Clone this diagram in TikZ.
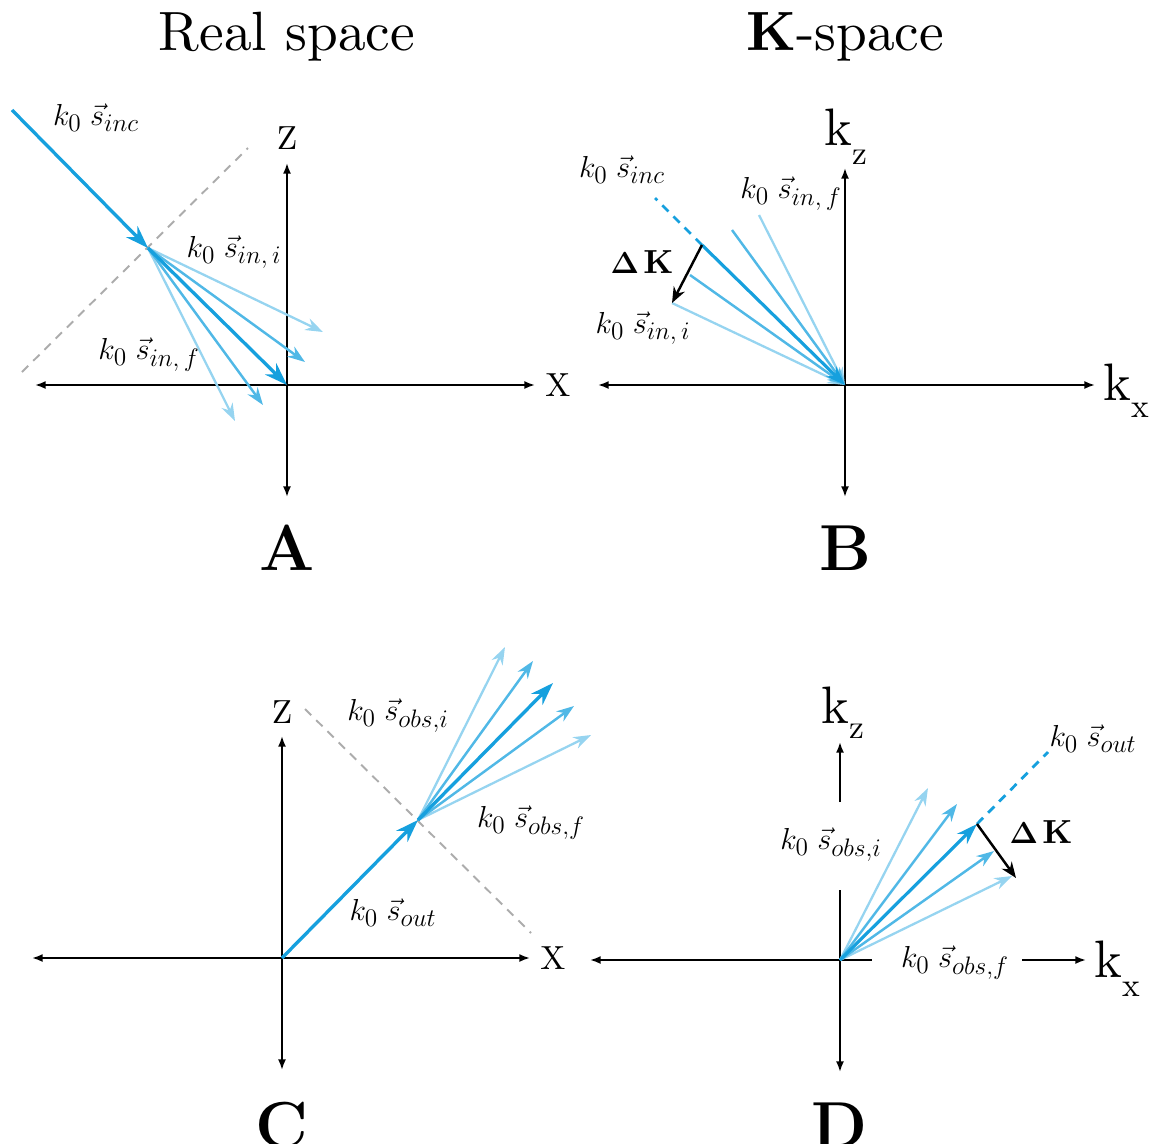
\documentclass[tikz,border=0pt]{standalone}
\usetikzlibrary{arrows.meta}
\definecolor{sblue}{RGB}{22,160,222}
\font\ttlfont="[lmroman10-regular]:mapping=tex-text" at 31.5pt
\font\ttlbf="[lmroman10-bold]:mapping=tex-text" at 31.5pt
\font\axfont="[lmroman10-regular]" at 19pt
\font\kfont="[lmroman10-regular]" at 30pt
\font\subfont="[lmroman10-regular]" at 19pt
\font\dkfont="[lmroman10-bold]" at 19pt
\DeclareMathSizes{17}{17}{13.5}{10}
\newcommand{\klab}[2]{{\kfont k}\raisebox{-#2}{\subfont #1}}
\newcommand{\dK}{$\boldsymbol{\Delta}$\kern2.5pt{\dkfont K}}
\usepackage{amsmath,amsbsy}
\begin{document}
\begin{tikzpicture}[x=0.02cm,y=-0.02cm,
  ax/.style={line width=1.1pt,-{Latex[length=6pt,width=4.5pt]}},
  axn/.style={line width=1.1pt},
  b0/.style={sblue, line width=1.9pt, -{Stealth[length=13pt,width=9pt]}},
  b1/.style={sblue!75!white, line width=1.4pt, -{Stealth[length=10pt,width=7pt]}},
  b2/.style={sblue!45!white, line width=1.3pt, -{Stealth[length=10pt,width=7pt]}},
  gdash/.style={gray!65, line width=1.1pt, dash pattern=on 5pt off 4pt},
  bdash/.style={sblue, line width=1.6pt, dash pattern=on 5pt off 4pt},
  dk/.style={black, line width=1.4pt, -{Stealth[length=9pt,width=7pt]}},
  lab/.style={font=\fontsize{17}{17}\selectfont, inner sep=0pt},
  axl/.style={font=\axfont, inner sep=0pt},
  ttl/.style={font=\ttlfont, inner sep=0pt},
  big/.style={font=\fontsize{37}{37}\selectfont\bfseries, inner sep=0pt},
  dklab/.style={font=\fontsize{19}{19}\selectfont, inner sep=0pt}]
\useasboundingbox (0,0) rectangle (1153,1143);

% titles
\node[ttl] (t1) at (287,37) {Real space};
\node[ttl] (t2) at (845,37) {{\ttlbf K}-space};
\node[big] (lA) at (287,548) {A};
\node[big] (lB) at (845,548) {B};
\node[big] (lC) at (282,1125) {C};
\node[big] (lD) at (840,1125) {D};

% ---------------- Panel A ----------------
\coordinate (oA) at (287,385);
\coordinate (aL) at (35,385);
\coordinate (aR) at (535,385);
\coordinate (aU) at (287,163);
\coordinate (aD) at (287,497);
\draw[ax] (oA) -- (aL);
\draw[ax] (oA) -- (aR);
\draw[ax] (oA) -- (aU);
\draw[ax] (oA) -- (aD);
\node[axl] (aZ) at (287,138) {Z};
\node[axl] (aX) at (558,385) {X};
\coordinate (g1) at (22,372);
\coordinate (g2) at (248,148);
\draw[gdash] (g1) -- (g2);
\coordinate (inc0) at (12,110);
\coordinate (pA) at (148,248);
\draw[b0] (inc0) -- (pA);
\coordinate (a1) at (323,332);
\coordinate (a2) at (305,362);
\coordinate (a4) at (263,405);
\coordinate (a5) at (235,421);
\draw[b2] (pA) -- (a1);
\draw[b1] (pA) -- (a2);
\draw[b2] (pA) -- (a5);
\draw[b1] (pA) -- (a4);
\draw[b0] (pA) -- (oA);
\node[lab] (la1) at (96,118) {$k_0\;\vec{s}_{inc}$};
\node[lab] (la2) at (234,252) {$k_0\;\vec{s}_{in,\,i}$};
\node[lab] (la3) at (149,355) {$k_0\;\vec{s}_{in,\,f}$};

% ---------------- Panel B ----------------
\coordinate (oB) at (845,385);
\coordinate (bL) at (598,385);
\coordinate (bR) at (1095,385);
\coordinate (bU) at (845,168);
\coordinate (bD) at (845,497);
\draw[ax] (oB) -- (bL);
\draw[ax] (oB) -- (bR);
\draw[ax] (oB) -- (bU);
\draw[ax] (oB) -- (bD);
\node[inner sep=0pt, anchor=base west] (bkz) at (824,145) {\klab{z}{11pt}};
\node[inner sep=0pt, anchor=base west] (bkx) at (1103,400) {\klab{x}{10pt}};
\coordinate (bm) at (702,245);
\coordinate (bdash) at (655,198);
\coordinate (b1) at (732,230);
\coordinate (b2) at (759,215);
\coordinate (b4) at (690,275);
\coordinate (b5) at (672,303);
\draw[bdash] (bm) -- (bdash);
\draw[b2] (b2) -- (oB);
\draw[b1] (b1) -- (oB);
\draw[b2] (b5) -- (oB);
\draw[b1] (b4) -- (oB);
\draw[sblue, line width=1.8pt, -{Stealth[length=11pt,width=8pt]}] (bm) -- (oB);
\draw[dk] (bm) -- (b5);
\node[lab] (lb1) at (622,170) {$k_0\;\vec{s}_{inc}$};
\node[lab] (lb2) at (791,194) {$k_0\;\vec{s}_{in,\,f}$};
\node[dklab] (lb3) at (642,262) {\dK};
\node[lab] (lb4) at (643,328) {$k_0\;\vec{s}_{in,\,i}$};

% ---------------- Panel C ----------------
\coordinate (oC) at (282,958);
\coordinate (cL) at (32,958);
\coordinate (cR) at (530,958);
\coordinate (cU) at (282,736);
\coordinate (cD) at (282,1070);
\draw[ax] (oC) -- (cL);
\draw[ax] (oC) -- (cR);
\draw[ax] (oC) -- (cU);
\draw[ax] (oC) -- (cD);
\node[axl] (cZ) at (282,712) {Z};
\node[axl] (cX) at (553,958) {X};
\coordinate (h1) at (305,709);
\coordinate (h2) at (531,933);
\draw[gdash] (h1) -- (h2);
\coordinate (pC) at (418,820);
\draw[b0] (oC) -- (pC);
\coordinate (c1) at (505,647);
\coordinate (c2) at (533,661);
\coordinate (c3) at (553,683);
\coordinate (c4) at (574,706);
\coordinate (c5) at (591,735);
\draw[b2] (pC) -- (c1);
\draw[b1] (pC) -- (c2);
\draw[b2] (pC) -- (c5);
\draw[b1] (pC) -- (c4);
\draw[b0] (pC) -- (c3);
\node[lab] (lc1) at (398,716) {$k_0\;\vec{s}_{obs,i}$};
\node[lab] (lc2) at (531,823) {$k_0\;\vec{s}_{obs,f}$};
\node[lab] (lc3) at (393,913) {$k_0\;\vec{s}_{out}$};

% ---------------- Panel D ----------------
\coordinate (oD) at (840,960);
\coordinate (dL) at (590,960);
\coordinate (dR1) at (872,960);
\coordinate (dR2) at (1022,960);
\coordinate (dR) at (1086,960);
\coordinate (dU1) at (840,890);
\coordinate (dU2) at (840,802);
\coordinate (dU) at (840,742);
\coordinate (dD) at (840,1072);
\draw[ax] (oD) -- (dL);
\draw[axn] (oD) -- (dR1);
\draw[ax] (dR2) -- (dR);
\draw[axn] (oD) -- (dU1);
\draw[ax] (dU2) -- (dU);
\draw[ax] (oD) -- (dD);
\node[inner sep=0pt, anchor=base west] (dkz) at (821,723) {\klab{z}{9pt}};
\node[inner sep=0pt, anchor=base west] (dkx) at (1094,977) {\klab{x}{11pt}};
\coordinate (d1) at (928,788);
\coordinate (d2) at (957,804);
\coordinate (dm) at (977,824);
\coordinate (d4) at (994,851);
\coordinate (d5) at (1012,876);
\coordinate (ddash) at (1048,752);
\coordinate (dkend) at (1016,878);
\draw[bdash] (dm) -- (ddash);
\draw[b2] (oD) -- (d1);
\draw[b1] (oD) -- (d2);
\draw[b2] (oD) -- (d5);
\draw[b1] (oD) -- (d4);
\draw[sblue, line width=1.8pt, -{Stealth[length=12pt,width=8pt]}] (oD) -- (dm);
\draw[dk] (dm) -- (dkend);
\node[lab] (ld1) at (1093,739) {$k_0\;\vec{s}_{out}$};
\node[dklab] (ld2) at (1041,832) {\dK};
\node[lab] (ld3) at (831,845) {$k_0\;\vec{s}_{obs,i}$};
\node[lab] (ld4) at (955,963) {$k_0\;\vec{s}_{obs,f}$};
\end{tikzpicture}
\end{document}
